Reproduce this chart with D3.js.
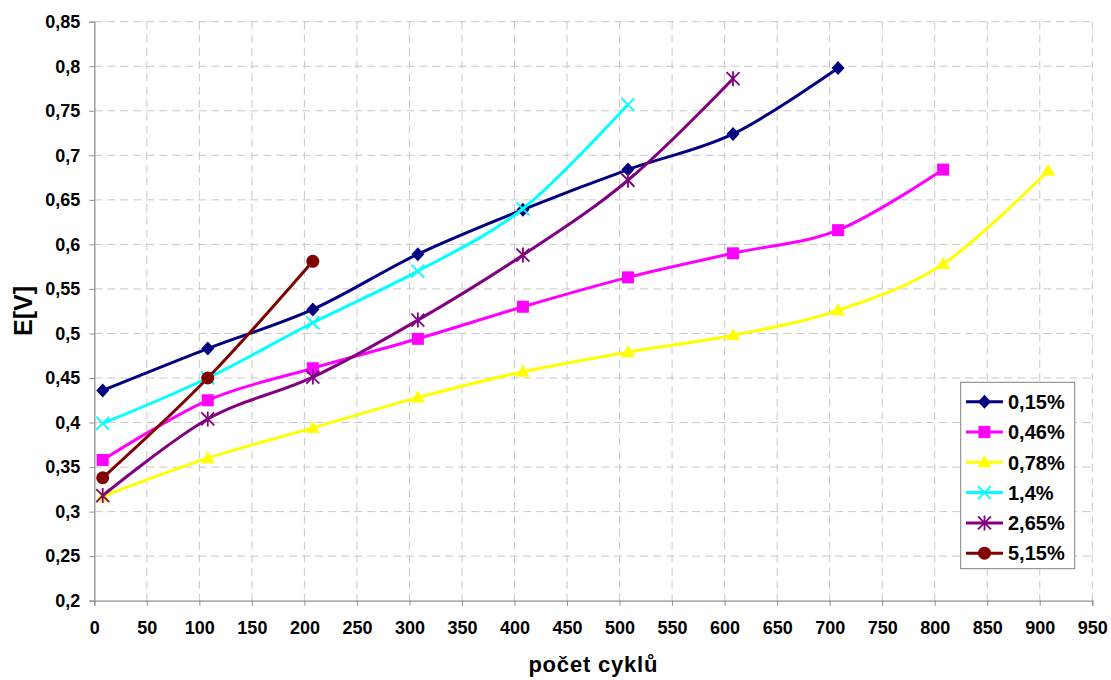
<!DOCTYPE html>
<html><head><meta charset="utf-8">
<script src="https://cdn.jsdelivr.net/npm/d3@7"></script>
<style>body{margin:0;background:#fff;} text{font-family:"Liberation Sans",Arial,sans-serif;}</style>
</head><body><svg id="c" width="1111" height="680"></svg>
<script>
const cycles = [8,108,208,308,408,508,608,708,808,908];
const s015 = [0.436,0.483,0.527,0.589,0.639,0.684,0.724,0.798];
const s046 = [0.358,0.425,0.461,0.494,0.530,0.563,0.590,0.616,0.684];
const s078 = [0.317,0.360,0.394,0.428,0.457,0.479,0.498,0.526,0.578,0.683];
const s14  = [0.399,0.450,0.512,0.570,0.640,0.757];
const s265 = [0.318,0.404,0.451,0.515,0.588,0.672,0.786];
const s515 = [0.338,0.450,0.581];
const seriesNames = ["0,15%","0,46%","0,78%","1,4%","2,65%","5,15%"];
const seriesColors = ["#000080","#FF00FF","#FFFF00","#00FFFF","#800080","#800000"];
const seriesMarkers = ["diamond","square","triangle","x","star","circle"];
const xTicks = d3.range(0,951,50);
const yTicks = d3.range(0,14).map(i=>+(0.2+i*0.05).toFixed(2));

const series = [s015,s046,s078,s14,s265,s515].map((v,i)=>({name:seriesNames[i],color:seriesColors[i],marker:seriesMarkers[i],pts:v.map((y,j)=>({x:cycles[j],y}))}));

const svg = d3.select("#c");
const L=94.3,R=1092.3,T=21.7,B=600.7;
const x = d3.scaleLinear().domain([0,950]).range([L,R]);
const y = d3.scaleLinear().domain([0.2,0.85]).range([B,T]);
const fmt = d=>String(+d.toFixed(2)).replace(".",",");

// grid
const g = svg.append("g");
g.selectAll(".gx").data(xTicks.slice(1)).join("line")
  .attr("x1",d=>x(d)).attr("x2",d=>x(d)).attr("y1",T).attr("y2",B)
  .attr("stroke","#c8c8c8").attr("stroke-width",1).attr("stroke-dasharray","8,5");
g.selectAll(".gy").data(yTicks.slice(1)).join("line")
  .attr("x1",L).attr("x2",R).attr("y1",d=>y(d)).attr("y2",d=>y(d))
  .attr("stroke","#c8c8c8").attr("stroke-width",1).attr("stroke-dasharray","8,5");

// axes
const xAxis = d3.axisBottom(x).tickValues(xTicks).tickSize(5).tickPadding(8).tickFormat(d=>d);
const yAxis = d3.axisLeft(y).tickValues(yTicks).tickSize(5).tickPadding(8).tickFormat(fmt);
const gx = svg.append("g").attr("transform",`translate(0,${B})`).call(xAxis);
const gy = svg.append("g").attr("transform",`translate(${L},0)`).call(yAxis);
[gx,gy].forEach(a=>{
  a.select(".domain").attr("stroke","#909090").attr("stroke-width",1.3);
  a.selectAll(".tick line").attr("stroke","#909090");
  a.selectAll("text").attr("font-size",18).attr("font-weight","bold").attr("fill","#000").style("font-family","'Liberation Sans',Arial,sans-serif");
});
gx.selectAll("text").attr("dy","0.71em").attr("y",21);
gy.selectAll("text").attr("x",-14);

svg.append("text").attr("x",(L+R)/2+0).attr("y",672).attr("text-anchor","middle")
  .attr("font-size",22).attr("font-weight","bold").attr("letter-spacing",0.8).text("počet cyklů");
svg.append("text").attr("transform","translate(32,311) rotate(-90)").attr("text-anchor","middle")
  .attr("font-size",25).attr("font-weight","bold").text("E[V]");

const line = d3.line().x(d=>x(d.x)).y(d=>y(d.y)).curve(d3.curveCardinal.tension(0));

function drawMarker(sel, type, color){
  if(type==="diamond") sel.append("path").attr("d","M0,-7L6.5,0L0,7L-6.5,0Z").attr("fill",color);
  else if(type==="square") sel.append("rect").attr("x",-6).attr("y",-6).attr("width",12).attr("height",12).attr("fill",color);
  else if(type==="triangle") sel.append("path").attr("d","M0,-7L7,5L-7,5Z").attr("fill",color);
  else if(type==="x") sel.append("path").attr("d","M-6.5,-6.5L6.5,6.5M-6.5,6.5L6.5,-6.5").attr("stroke",color).attr("stroke-width",1.8);
  else if(type==="star") sel.append("path").attr("d","M-6.5,-6.5L6.5,6.5M-6.5,6.5L6.5,-6.5M0,-7.5L0,7.5").attr("stroke",color).attr("stroke-width",1.8);
  else if(type==="circle") sel.append("circle").attr("r",6.5).attr("fill",color);
}

series.forEach(s=>{
  svg.append("path").datum(s.pts).attr("d",line).attr("fill","none").attr("stroke",s.color).attr("stroke-width",3);
  s.pts.forEach(p=>{
    const m = svg.append("g").attr("transform",`translate(${x(p.x)},${y(p.y)})`);
    drawMarker(m,s.marker,s.color);
  });
});

// legend
const lg = svg.append("g");
lg.append("rect").attr("x",960.7).attr("y",382.3).attr("width",114).attr("height",186.4)
  .attr("fill","#fff").attr("stroke","#808080").attr("stroke-width",1);
series.forEach((s,i)=>{
  const yy = 401.7 + i*30.3;
  lg.append("line").attr("x1",966).attr("x2",1003).attr("y1",yy).attr("y2",yy).attr("stroke",s.color).attr("stroke-width",3);
  const m = lg.append("g").attr("transform",`translate(984.5,${yy})`);
  drawMarker(m,s.marker,s.color);
  lg.append("text").attr("x",1008).attr("y",yy).attr("dy","0.36em").attr("font-size",20).attr("font-weight","bold").text(s.name);
});
</script></body></html>
